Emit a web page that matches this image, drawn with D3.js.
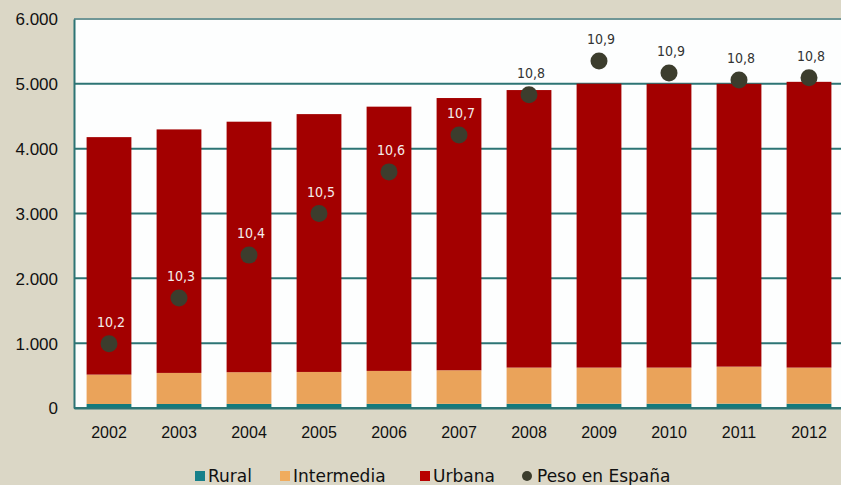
<!DOCTYPE html>
<html>
<head>
<meta charset="utf-8">
<script src="https://cdn.jsdelivr.net/npm/d3@7"></script>
<style>
  body { margin: 0; background: #dbd7c6; }
  svg { display: block; font-family: "DejaVu Sans Condensed", "DejaVu Sans", sans-serif; }
</style>
</head>
<body>
<script>
// chart data
var years = ["2002", "2003", "2004", "2005", "2006", "2007", "2008", "2009", "2010", "2011", "2012"];
var rural = [62, 62, 63, 63, 64, 64, 65, 66, 66, 67, 66];
var intermedia = [453, 479, 489, 493, 508, 518, 558, 557, 557, 571, 557];
var urbana = [3663, 3756, 3864, 3977, 4076, 4199, 4281, 4380, 4377, 4362, 4408];
var peso = [10.165, 10.283, 10.393, 10.50, 10.607, 10.702, 10.805, 10.892, 10.861, 10.843, 10.849];
var yTicks = [0, 1000, 2000, 3000, 4000, 5000, 6000];

var svgWidth = 841;
var svgHeight = 485;

var margin = { top: 19, right: -3, bottom: 77, left: 74 };
var chartWidth = svgWidth - margin.left - margin.right;
var chartHeight = svgHeight - margin.top - margin.bottom;

var svg = d3.select("body")
  .append("svg")
  .attr("width", svgWidth)
  .attr("height", svgHeight);

var chartGroup = svg.append("g")
  .attr("transform", `translate(${margin.left}, ${margin.top})`);

// build rows for the stack
var rows = years.map((y, i) => ({ year: y, rural: rural[i], intermedia: intermedia[i], urbana: urbana[i], peso: peso[i] }));
var keys = ["rural", "intermedia", "urbana"];
var colors = { rural: "#137a7c", intermedia: "#eaa35a", urbana: "#a30000" };

var xBandScale = d3.scaleBand()
  .domain(years)
  .range([0, chartWidth])
  .paddingInner(0.36)
  .paddingOuter(0.18);

var yLinearScale = d3.scaleLinear()
  .domain([0, 6000])
  .range([chartHeight, 0]);

// hidden secondary axis for "Peso en España"
var y2Scale = d3.scaleLinear()
  .domain([10, 11])
  .range([chartHeight, 0]);

// plot background
chartGroup.append("rect")
  .attr("width", chartWidth)
  .attr("height", chartHeight)
  .attr("fill", "#fdfefe");

// gridlines
chartGroup.append("g")
  .selectAll("line")
  .data(yTicks)
  .enter()
  .append("line")
  .attr("x1", 0)
  .attr("x2", chartWidth)
  .attr("y1", d => yLinearScale(d))
  .attr("y2", d => yLinearScale(d))
  .attr("stroke", d => d == 6000 ? "#6f9696" : "#2d7474")
  .attr("stroke-width", 2);

var fmt = d3.formatLocale({ decimal: ",", thousands: ".", grouping: [3], currency: ["", ""] });

var leftAxis = d3.axisLeft(yLinearScale).tickValues(yTicks).tickSize(0).tickPadding(16).tickFormat(fmt.format(",d"));
var yAxisG = chartGroup.append("g").call(leftAxis);
yAxisG.select(".domain").attr("stroke", "#2d7474").attr("stroke-width", 2);
yAxisG.selectAll("text").attr("font-size", 17).attr("fill", "#111").attr("dy", "0.35em");

// stacked bars
var stacked = d3.stack().keys(keys)(rows);
chartGroup.selectAll(".layer")
  .data(stacked)
  .enter()
  .append("g")
  .attr("class", "layer")
  .attr("fill", d => colors[d.key])
  .selectAll("rect")
  .data(d => d)
  .enter()
  .append("rect")
  .attr("x", d => xBandScale(d.data.year))
  .attr("y", d => yLinearScale(d[1]))
  .attr("width", xBandScale.bandwidth())
  .attr("height", d => yLinearScale(d[0]) - yLinearScale(d[1]));

// bottom axis
var bottomAxis = d3.axisBottom(xBandScale).tickSize(0).tickPadding(19);
var xAxisG = chartGroup.append("g")
  .attr("transform", `translate(0, ${chartHeight})`)
  .call(bottomAxis);
xAxisG.select(".domain").attr("stroke", "#2d7474").attr("stroke-width", 2);
xAxisG.selectAll("text").attr("font-size", 16).attr("fill", "#111");

// dots and labels
var cx = d => xBandScale(d.year) + xBandScale.bandwidth() / 2;
chartGroup.selectAll(".dot")
  .data(rows)
  .enter()
  .append("circle")
  .attr("class", "dot")
  .attr("cx", cx)
  .attr("cy", d => y2Scale(d.peso))
  .attr("r", 8.5)
  .attr("fill", "#3c3d2d");

chartGroup.selectAll(".lbl")
  .data(rows)
  .enter()
  .append("text")
  .attr("class", "lbl")
  .attr("x", d => cx(d) + 2)
  .attr("y", d => y2Scale(d.peso) - 17)
  .attr("text-anchor", "middle")
  .attr("font-size", 14)
  .attr("fill", d => (y2Scale(d.peso) - 25 > yLinearScale(d.rural + d.intermedia + d.urbana)) ? "#f4ecec" : "#333")
  .text(d => fmt.format(".1f")(d.peso));

// legend
var legendItems = [
  { name: "Rural", color: "#16808a", shape: "rect", x: 195 },
  { name: "Intermedia", color: "#f0ac5e", shape: "rect", x: 280 },
  { name: "Urbana", color: "#b80000", shape: "rect", x: 420 },
  { name: "Peso en España", color: "#3c3d2d", shape: "circle", x: 522 }
];
var legend = svg.append("g").attr("transform", "translate(0, 476)");
var li = legend.selectAll("g").data(legendItems).enter().append("g")
  .attr("transform", d => `translate(${d.x}, 0)`);
li.filter(d => d.shape == "rect").append("rect")
  .attr("x", 0).attr("y", -5).attr("width", 10).attr("height", 10)
  .attr("fill", d => d.color);
li.filter(d => d.shape == "circle").append("circle")
  .attr("cx", 5).attr("cy", 0).attr("r", 5)
  .attr("fill", d => d.color);
li.append("text")
  .attr("x", d => d.shape == "circle" ? 15 : 13)
  .attr("dy", "0.35em")
  .attr("font-family", "'DejaVu Sans', sans-serif")
  .attr("font-size", 17)
  .attr("fill", "#111")
  .text(d => d.name);
</script>
</body>
</html>
